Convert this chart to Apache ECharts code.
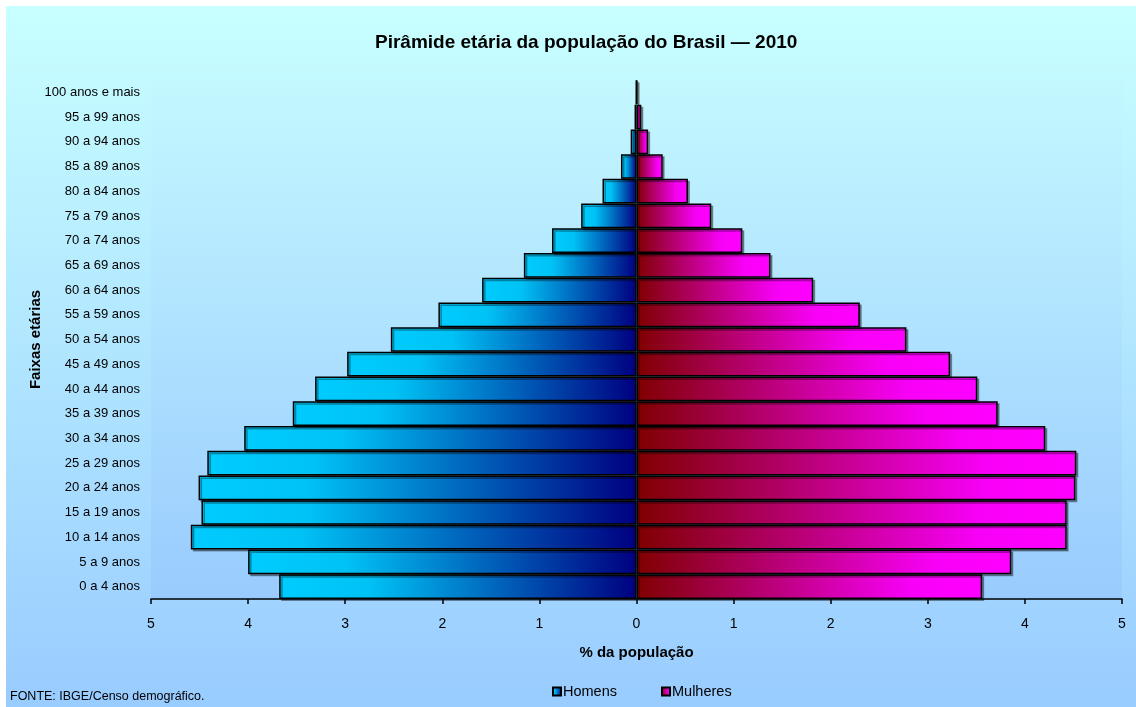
<!DOCTYPE html>
<html>
<head>
<meta charset="utf-8">
<title>Pirâmide etária</title>
<script src="https://cdn.jsdelivr.net/npm/echarts@6/dist/echarts.min.js"></script>
<style>
  html, body { margin: 0; padding: 0; background: #fff; }
  #chart { width: 1136px; height: 707px; }
</style>
</head>
<body>
<div id="chart"></div>
<script>
// faixas etárias, de baixo para cima
var faixas = ['0 a 4 anos', '5 a 9 anos', '10 a 14 anos', '15 a 19 anos', '20 a 24 anos',
  '25 a 29 anos', '30 a 34 anos', '35 a 39 anos', '40 a 44 anos', '45 a 49 anos',
  '50 a 54 anos', '55 a 59 anos', '60 a 64 anos', '65 a 69 anos', '70 a 74 anos',
  '75 a 79 anos', '80 a 84 anos', '85 a 89 anos', '90 a 94 anos', '95 a 99 anos',
  '100 anos e mais'];
// % da população
var homens = [3.68, 4.00, 4.59, 4.48, 4.51, 4.42, 4.04, 3.54, 3.31, 2.98,
  2.53, 2.04, 1.59, 1.16, 0.87, 0.57, 0.35, 0.16, 0.06, 0.02, 0.005];
var mulheres = [3.56, 3.86, 4.43, 4.43, 4.52, 4.53, 4.21, 3.72, 3.51, 3.23,
  2.78, 2.30, 1.82, 1.38, 1.09, 0.77, 0.53, 0.27, 0.12, 0.05, 0.01];

var chart = echarts.init(document.getElementById('chart'));

var gradHomens = new echarts.graphic.LinearGradient(0, 0, 1, 0, [
  { offset: 0, color: '#00CCFF' },
  { offset: 0.25, color: '#00C2F4' },
  { offset: 1, color: '#000080' }
]);
var gradMulheres = new echarts.graphic.LinearGradient(0, 0, 1, 0, [
  { offset: 0, color: '#800000' },
  { offset: 0.8, color: '#F800F8' },
  { offset: 1, color: '#FF00FF' }
]);

var font = 'Arial, "Liberation Sans", sans-serif';

var option = {
  backgroundColor: '#fff',
  graphic: [
    {
      type: 'rect', z: -10, silent: true,
      shape: { x: 6, y: 6, width: 1130, height: 701 },
      style: {
        fill: new echarts.graphic.LinearGradient(0, 0, 0, 1, [
          { offset: 0, color: '#C8FFFF' },
          { offset: 1, color: '#99CCFF' }
        ])
      }
    },
    {
      type: 'text', left: 10, top: 690,
      style: { text: 'FONTE: IBGE/Censo demográfico.', font: '12.5px ' + font, fill: '#000' }
    }
  ],
  title: {
    text: 'Pirâmide etária da população do Brasil — 2010',
    left: 370, top: 28,
    textStyle: { fontFamily: font, fontSize: 19, fontWeight: 'bold', color: '#000' }
  },
  legend: {
    top: 679, left: 547, itemGap: 44,
    itemWidth: 8, itemHeight: 8, icon: 'rect',
    textStyle: { fontFamily: font, fontSize: 14.5, color: '#000', padding: [0, 0, 0, -3] },
    data: ['Homens', 'Mulheres']
  },
  grid: {
    left: 151, right: 14, top: 80, bottom: 108,
    show: true, borderWidth: 0,
    backgroundColor: new echarts.graphic.LinearGradient(0, 0, 0, 1, [
      { offset: 0, color: '#C4F8FF' },
      { offset: 1, color: '#99CBFE' }
    ])
  },
  xAxis: {
    type: 'value', min: -5, max: 5, interval: 1,
    name: '% da população', nameLocation: 'middle', nameGap: 46,
    nameTextStyle: { fontFamily: font, fontSize: 15, fontWeight: 'bold', color: '#000' },
    axisLine: { show: true, lineStyle: { color: '#000', width: 1.5 } },
    axisTick: { show: true, length: 5, lineStyle: { color: '#000', width: 1.5 } },
    axisLabel: {
      margin: 18, fontFamily: font, fontSize: 14, color: '#000',
      formatter: function (v) { return Math.abs(v); }
    },
    splitLine: { show: false }
  },
  yAxis: {
    type: 'category', data: faixas,
    name: 'Faixas etárias', nameLocation: 'middle', nameGap: 108,
    nameMoveOverlap: false,
    nameTextStyle: { fontFamily: font, fontSize: 15, fontWeight: 'bold', color: '#000' },
    axisLine: { show: false, onZero: false },
    axisTick: { show: false },
    axisLabel: { margin: 11, fontFamily: font, fontSize: 13, color: '#000' },
    splitLine: { show: false }
  },
  series: [
    {
      name: 'Homens', type: 'bar', stack: 'pop',
      barCategoryGap: 0,
      data: homens.map(function (v) { return -v; }),
      itemStyle: {
        color: gradHomens, borderColor: '#000', borderWidth: 1.5,
        shadowColor: 'rgba(0,0,0,0.35)', shadowOffsetX: 2, shadowOffsetY: 2
      }
    },
    {
      name: 'Mulheres', type: 'bar', stack: 'pop',
      barCategoryGap: 0,
      data: mulheres,
      itemStyle: {
        color: gradMulheres, borderColor: '#000', borderWidth: 1.5,
        shadowColor: 'rgba(0,0,0,0.35)', shadowOffsetX: 2, shadowOffsetY: 2
      }
    }
  ]
};

chart.setOption(option);
</script>
</body>
</html>
